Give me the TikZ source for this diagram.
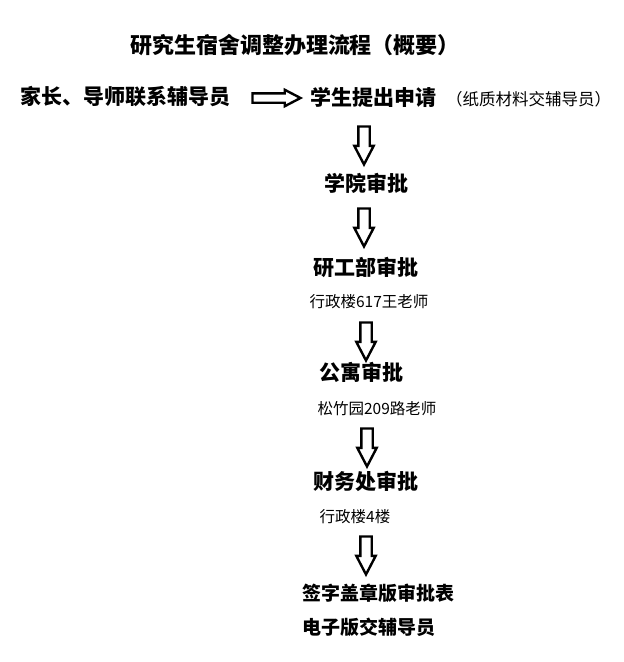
\documentclass[tikz,border=0pt]{standalone}
\usepackage{fontspec}
\setmainfont{Noto Sans CJK SC}[BoldFont={Noto Sans CJK SC Black}]
\usetikzlibrary{shapes.arrows}

\begin{document}
\begin{tikzpicture}[x=1pt, y=-1pt,
    step title/.style={font=\fontsize{21}{25}\selectfont\bfseries, inner sep=0pt},
    step note/.style={font=\fontsize{15.5}{18}\selectfont, inner sep=0pt},
    hollow/.style={single arrow, draw, line width=2.4pt, inner sep=4.5pt,
      minimum height=38pt, single arrow head extend=4pt,
      single arrow tip angle=55, single arrow head indent=0pt}]

        \useasboundingbox (0,0) rectangle (624,662);

        \node[step title, font=\fontsize{22}{26}\selectfont\bfseries] (title) at (295,45) {研究生宿舍调整办理流程（概要）};

        \node[step title, anchor=west] (parent) at (20,97) {家长、导师联系辅导员};
        \node[hollow, minimum height=48pt, inner sep=3.5pt, single arrow head extend=3.5pt] (ar0) at (272,98) {};
        \node[step title, anchor=west] (apply) at (310,97) {学生提出申请};
        \node[step note, anchor=west, font=\fontsize{16.5}{19}\selectfont] (paper) at (446,99) {（纸质材料交辅导员）};

        \node[hollow, rotate=-90] (a1) at (364,140) {};
        \node[step title] (college) at (366,183) {学院审批};

        \node[hollow, rotate=-90] (a2) at (364,222) {};
        \node[step title] (grad) at (366,267) {研工部审批};
        \node[step note] (gradnote) at (369,302) {行政楼617王老师};

        \node[hollow, rotate=-90] (a3) at (366,336) {};
        \node[step title] (apart) at (361,372) {公寓审批};
        \node[step note] (apartnote) at (377,409) {松竹园209路老师};

        \node[hollow, rotate=-90] (a4) at (367,442) {};
        \node[step title] (finance) at (366,481) {财务处审批};
        \node[step note] (finnote) at (355,517) {行政楼4楼};

        \node[hollow, rotate=-90] (a5) at (366,550) {};
        \node[step title, anchor=west, font=\fontsize{19}{23}\selectfont\bfseries] (sign) at (302,593) {签字盖章版审批表};
        \node[step title, anchor=west, font=\fontsize{19}{23}\selectfont\bfseries] (elec) at (302,627) {电子版交辅导员};

      \end{tikzpicture}
\end{document}
